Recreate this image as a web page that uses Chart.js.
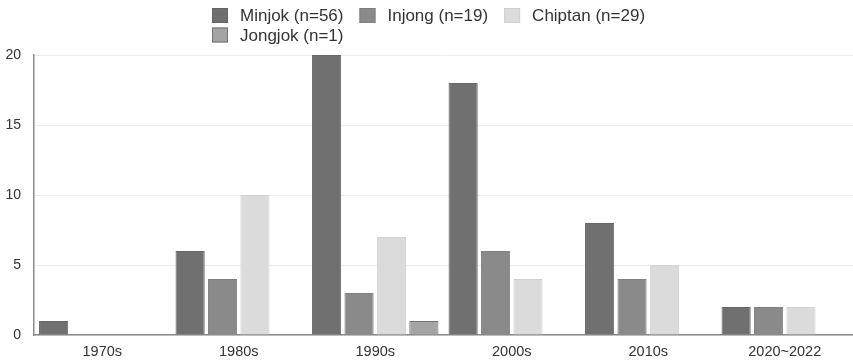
<!DOCTYPE html>
<html>
<head>
<meta charset="utf-8">
<script src="https://cdn.jsdelivr.net/npm/chart.js@4.4.0/dist/chart.umd.min.js"></script>
<style>
  html, body { margin: 0; padding: 0; background: #fff; }
  #wrap { width: 853px; height: 362px; position: relative; }
</style>
</head>
<body>
<div id="wrap"><canvas id="c"></canvas></div>
<script>
const categories = ['1970s', '1980s', '1990s', '2000s', '2010s', '2020~2022'];
const seriesLabels = ['Minjok (n=56)', 'Injong (n=19)', 'Chiptan (n=29)', 'Jongjok (n=1)'];
const minjok  = [1, 6, 20, 18, 8, 2];
const injong  = [0, 4, 3, 6, 4, 2];
const chiptan = [0, 10, 7, 4, 5, 2];
const jongjok = [0, 0, 1, 0, 0, 0];
const yTicks = [0, 5, 10, 15, 20];

const fills   = ['#707070', '#8a8a8a', '#dbdbdb', '#a4a4a4'];
const borders = ['#666666', '#808080', '#d2d2d2', '#747474'];
const FONT = '"Liberation Sans", Arial, Helvetica, sans-serif';

const seriesData = [minjok, injong, chiptan, jongjok];

const customLegend = {
  id: 'customLegend',
  afterDraw(chart) {
    const ctx = chart.ctx;
    ctx.save();
    ctx.font = '17px ' + FONT;
    ctx.textBaseline = 'middle';
    ctx.textAlign = 'left';
    const startX = 212, rowY = [15.5, 35], perRow = 3;
    let x = startX, row = 0;
    chart.data.datasets.forEach((ds, i) => {
      if (i > 0 && i % perRow === 0) { row++; x = startX; }
      const y = rowY[row];
      ctx.fillStyle = ds.backgroundColor;
      ctx.fillRect(x, y - 7.5, 16, 15);
      ctx.strokeStyle = ds.borderColor;
      ctx.lineWidth = 1;
      ctx.strokeRect(x + 0.5, y - 7, 15, 14);
      ctx.fillStyle = '#333333';
      ctx.fillText(ds.label, x + 28, y + 1);
      x += 28 + ctx.measureText(ds.label).width + 16;
    });
    ctx.restore();
  }
};

new Chart(document.getElementById('c'), {
  type: 'bar',
  data: {
    labels: categories,
    datasets: seriesLabels.map((lab, i) => ({
      label: lab,
      data: seriesData[i],
      backgroundColor: fills[i],
      borderColor: borders[i],
      borderWidth: c => (c.raw ? 1 : 0),
      borderSkipped: 'start',
      categoryPercentage: 0.95,
      barPercentage: 0.9
    }))
  },
  options: {
    responsive: true,
    maintainAspectRatio: false,
    animation: false,
    layout: { padding: { top: 55, right: 0, left: 0, bottom: 0 } },
    plugins: {
      legend: { display: false },
      tooltip: { enabled: false }
    },
    scales: {
      x: {
        afterFit(scale) { scale.height = 27; },
        grid: { display: false, drawTicks: false },
        border: { display: true, color: '#8c8c8c', width: 1.5 },
        ticks: { color: '#333333', font: { family: FONT, size: 14.5 }, padding: 8 }
      },
      y: {
        min: 0, max: 20,
        afterFit(scale) { scale.width = 34; },
        afterBuildTicks(scale) { scale.ticks = yTicks.map(v => ({ value: v })); },
        grid: { color: '#ececec', drawTicks: false },
        border: { display: true, color: '#8c8c8c', width: 1.5 },
        ticks: { color: '#333333', font: { family: FONT, size: 14 }, padding: 13 }
      }
    }
  },
  plugins: [customLegend]
});
</script>
</body>
</html>
